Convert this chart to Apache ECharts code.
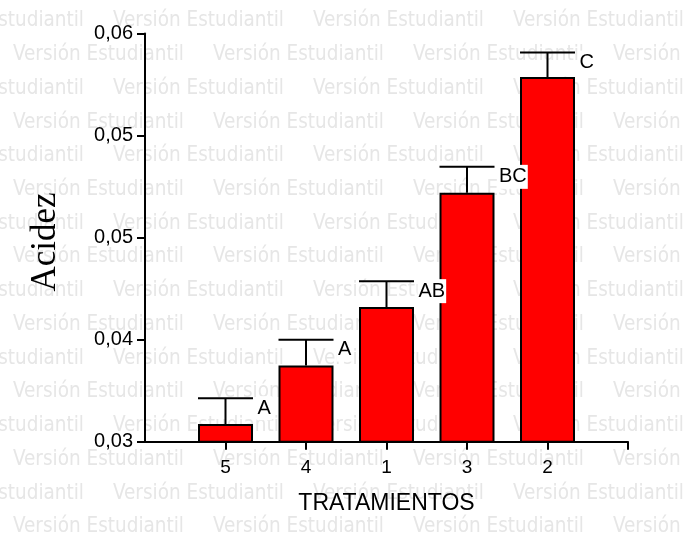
<!DOCTYPE html>
<html>
<head>
<meta charset="utf-8">
<script src="https://cdn.jsdelivr.net/npm/echarts@6/dist/echarts.min.js"></script>
<style>
  html, body { margin: 0; padding: 0; background: #ffffff; }
  #chart { width: 685px; height: 539px; }
</style>
</head>
<body>
<div id="chart"></div>
<script>
// Treatments in plotted order, mean acidity, standard error and Tukey groups
var categories = ['5', '4', '1', '3', '2'];
var means = [0.0313, 0.0356, 0.0399, 0.0483, 0.0568];
var errors = [0.0019, 0.0019, 0.0019, 0.0019, 0.0018];
var groups = ['A', 'A', 'AB', 'BC', 'C'];
var yTickLabels = ['0,03', '0,04', '0,05', '0,05', '0,06'];
var watermarkText = 'Versión Estudiantil';

// The x axis leaves one empty slot at each end so ticks sit between the axis ends
var axisCats = [''].concat(categories, ['']);
var barData = ['-'].concat(means, ['-']);
var errData = categories.map(function (c, i) { return [i + 1, means[i], errors[i], i]; });

var BAR_W = 55;

// Repeated light-grey watermark rows behind the plot
var watermark = [];
for (var r = 0; r < 16; r++) {
  var y = 21 + r * 33.73;
  var x0 = (r % 2 === 1) ? 13 : -87;
  for (var x = x0; x < 685; x += 200) {
    watermark.push({
      type: 'text',
      z: -10,
      silent: true,
      style: {
        x: x, y: y,
        text: watermarkText,
        fill: '#e6e6e6',
        font: '20.5px "DejaVu Sans Condensed", "DejaVu Sans"',
        verticalAlign: 'middle',
        align: 'left'
      }
    });
  }
}

var chart = echarts.init(document.getElementById('chart'), null, { renderer: 'canvas' });
chart.setOption({
  backgroundColor: '#ffffff',
  animation: false,
  grid: { left: 145, right: 57, top: 33.5, bottom: 97.3, containLabel: false },
  graphic: watermark.concat([{
    type: 'text',
    z: 5,
    x: 46, y: 242,
    rotation: Math.PI / 2,
    style: {
      text: 'Acidez',
      fill: '#000',
      font: '35px "Liberation Serif", "Times New Roman", serif',
      align: 'center',
      verticalAlign: 'middle'
    }
  }]),
  xAxis: {
    type: 'category',
    data: axisCats,
    boundaryGap: false,
    name: 'TRATAMIENTOS',
    nameLocation: 'middle',
    nameGap: 50,
    nameTextStyle: { color: '#000', fontSize: 23, fontFamily: '"Liberation Sans", Arial, sans-serif' },
    axisLine: { lineStyle: { color: '#000', width: 2 } },
    axisTick: {
      show: true, length: 8, lineStyle: { color: '#000', width: 2 },
      interval: function (index) { return index !== 0; }
    },
    axisLabel: {
      interval: 0, margin: 17, color: '#000', fontSize: 19,
      fontFamily: '"Liberation Sans", Arial, sans-serif'
    },
    splitLine: { show: false }
  },
  yAxis: {
    type: 'value',
    min: 0.03, max: 0.06, interval: 0.0075,
    axisLine: { show: true, lineStyle: { color: '#000', width: 2 } },
    axisTick: { show: true, length: 8, lineStyle: { color: '#000', width: 2 } },
    axisLabel: {
      margin: 12, color: '#000', fontSize: 20,
      fontFamily: '"Liberation Sans", Arial, sans-serif',
      formatter: function (v, i) { return yTickLabels[i]; }
    },
    splitLine: { show: false }
  },
  series: [
    {
      type: 'bar',
      data: barData,
      barWidth: BAR_W,
      z: 2,
      itemStyle: { color: '#ff0000', borderColor: '#000', borderWidth: 2 }
    },
    {
      type: 'custom',
      z: 3,
      data: errData,
      renderItem: function (params, api) {
        var idx = api.value(0);
        var m = api.value(1);
        var e = api.value(2);
        var gi = api.value(3);
        var top = api.coord([idx, m]);
        var cap = api.coord([idx, m + e]);
        var half = BAR_W / 2;
        return {
          type: 'group',
          children: [
            { type: 'line', shape: { x1: cap[0], y1: top[1], x2: cap[0], y2: cap[1] },
              style: { stroke: '#000', lineWidth: 2 } },
            { type: 'line', shape: { x1: cap[0] - half, y1: cap[1], x2: cap[0] + half, y2: cap[1] },
              style: { stroke: '#000', lineWidth: 2 } },
            { type: 'text', x: cap[0] + half + 3.5, y: cap[1] + 10,
              style: {
                text: groups[gi], fill: '#000',
                font: '20px "Liberation Sans", Arial, sans-serif',
                align: 'left', verticalAlign: 'middle',
                backgroundColor: '#fff', padding: [2, 1]
              } }
          ]
        };
      }
    }
  ]
});
</script>
</body>
</html>
